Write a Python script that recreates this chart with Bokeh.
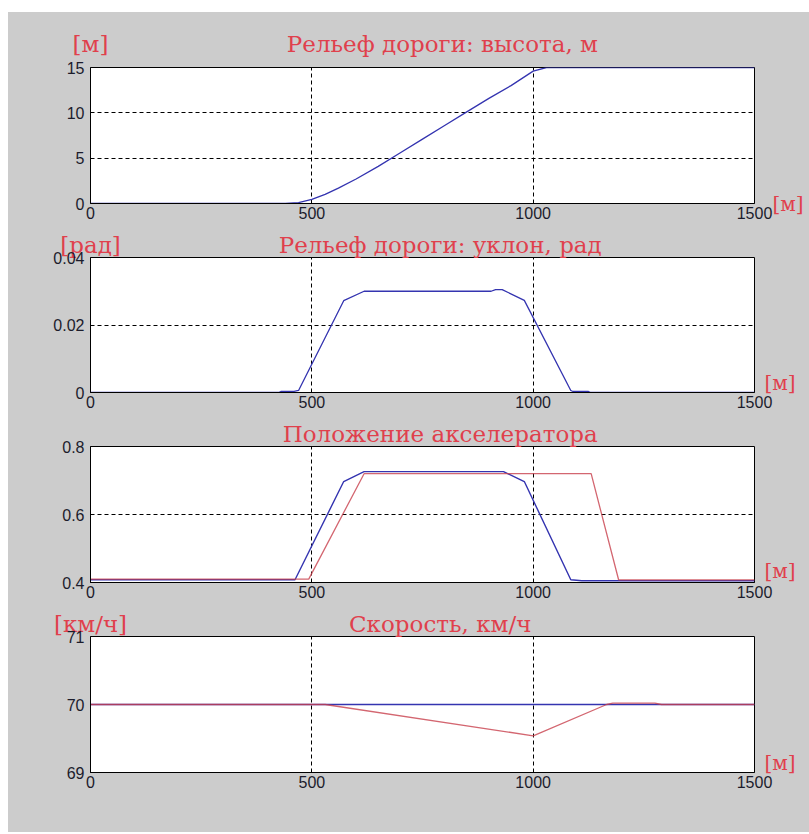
from bokeh.plotting import figure
from bokeh.models import Range1d, FixedTicker, LinearAxis
from bokeh.layouts import column
from bokeh.embed import file_html
from bokeh.resources import INLINE

# ---- data: distance along the road, m ----
X_TICKS = [0, 500, 1000, 1500]
X_TICK_LABELS = ["0", "500", "1000", "1500"]

# road profile: height, m
height_x = [0, 440, 470, 500, 530, 560, 600, 650, 700, 750, 800, 850, 900, 950, 1000, 1030, 1500]
height_y = [0, 0, 0.1, 0.45, 1.0, 1.7, 2.7, 4.1, 5.6, 7.1, 8.6, 10.1, 11.6, 13.0, 14.6, 15.0, 15.0]

# road profile: slope, rad
slope_x = [0, 425, 430, 460, 470, 572, 618, 905, 915, 930, 980, 1085, 1090, 1125, 1130, 1500]
slope_y = [0, 0, 0.0003, 0.0003, 0.0006, 0.0272, 0.0300, 0.0300, 0.0305, 0.0305, 0.0273,
           0.0006, 0.0003, 0.0003, 0, 0]

# accelerator position
accel_blue_x = [0, 462, 572, 618, 933, 980, 1085, 1110, 1500]
accel_blue_y = [0.408, 0.408, 0.697, 0.726, 0.726, 0.697, 0.408, 0.405, 0.405]
accel_red_x = [0, 493, 618, 1131, 1193, 1500]
accel_red_y = [0.41, 0.41, 0.72, 0.72, 0.408, 0.408]

# speed, km/h
speed_blue_x = [0, 1500]
speed_blue_y = [70, 70]
speed_red_x = [0, 530, 1000, 1166, 1180, 1275, 1290, 1500]
speed_red_y = [70, 70, 69.54, 70.0, 70.02, 70.02, 70.0, 70.0]

# y axis ticks and their labels
Y1_TICKS, Y1_LABELS = [0, 5, 10, 15], ["0", "5", "10", "15"]
Y2_TICKS, Y2_LABELS = [0, 0.02, 0.04], ["0", "0.02", "0.04"]
Y3_TICKS, Y3_LABELS = [0.4, 0.6, 0.8], ["0.4", "0.6", "0.8"]
Y4_TICKS, Y4_LABELS = [69, 70, 71], ["69", "70", "71"]

TITLES = ["Рельеф дороги: высота, м", "Рельеф дороги: уклон, рад",
          "Положение акселератора", "Скорость, км/ч"]
UNITS = ["[м]", "[рад]", None, "[км/ч]"]
X_UNIT = "[м]"

# ---- styling ----
GRAY = "#cccccc"
BLUE = "#3434b0"
RED = "#c8404c"
TITLE_RED = "#e0404c"
TICK_FONT = "Liberation Sans"
SERIF = "DejaVu Serif"

FRAME_W = 664


def bare_axis(ax):
    ax.axis_line_color = None
    ax.major_tick_line_color = None
    ax.minor_tick_line_color = None
    ax.major_tick_in = 0
    ax.major_tick_out = 0
    ax.major_label_text_font = SERIF
    ax.major_label_text_color = TITLE_RED


def make_panel(y_lo, y_hi, y_ticks, y_labels, frame_h, top, bottom):
    p = figure(frame_width=FRAME_W, frame_height=frame_h,
               x_range=Range1d(0, 1500), y_range=Range1d(y_lo, y_hi),
               output_backend="svg", toolbar_location=None, title=None,
               min_border_left=82, min_border_right=55,
               min_border_top=top, min_border_bottom=bottom)
    p.background_fill_color = "white"
    p.border_fill_color = GRAY
    p.outline_line_color = "black"
    p.outline_line_width = 1

    p.xaxis.ticker = FixedTicker(ticks=X_TICKS)
    p.xaxis.major_label_overrides = dict(zip(X_TICKS, X_TICK_LABELS))
    p.yaxis.ticker = FixedTicker(ticks=y_ticks)
    p.yaxis.major_label_overrides = dict(zip(y_ticks, y_labels))

    for ax in (p.xaxis[0], p.yaxis[0]):
        ax.axis_line_color = "black"
        ax.major_tick_in = 0
        ax.major_tick_out = 0
        ax.minor_tick_line_color = None
        ax.major_label_text_font = TICK_FONT
        ax.major_label_text_font_size = "16px"
        ax.major_label_text_color = "#1c1c2c"
    p.xaxis.major_label_standoff = 3
    p.yaxis.major_label_standoff = 6

    for g in (p.xgrid[0], p.ygrid[0]):
        g.grid_line_color = "black"
        g.grid_line_dash = "4 3"
        g.grid_line_width = 1
    return p


def add_heading(p, title, unit, title_at, unit_at, standoff):
    # panel heading and its unit share one row above the frame
    ticks = [title_at] + ([unit_at] if unit else [])
    names = [title] + ([unit] if unit else [])
    ax = LinearAxis(ticker=FixedTicker(ticks=ticks),
                    major_label_overrides=dict(zip(ticks, names)))
    bare_axis(ax)
    ax.major_label_text_font_size = "23px"
    ax.major_label_standoff = standoff
    p.add_layout(ax, "above")


def add_x_unit(p, at, standoff):
    # distance unit to the right of the frame, near the x axis
    ax = LinearAxis(ticker=FixedTicker(ticks=[at]),
                    major_label_overrides={at: X_UNIT})
    bare_axis(ax)
    ax.major_label_text_font_size = "20px"
    ax.major_label_standoff = standoff
    p.add_layout(ax, "right")


# panel 1: height
p1 = make_panel(0, 15, Y1_TICKS, Y1_LABELS, 136, 55, 22)
p1.line(height_x, height_y, line_color=BLUE, line_width=1.3)
add_heading(p1, TITLES[0], UNITS[0], 795, 0, 11)
add_x_unit(p1, 0, 18)

# panel 2: slope
p2 = make_panel(0, 0.04, Y2_TICKS, Y2_LABELS, 135, 32, 22)
p2.line(slope_x, slope_y, line_color=BLUE, line_width=1.3)
add_heading(p2, TITLES[1], UNITS[1], 790, 0, 0)
add_x_unit(p2, 0.00267, 10)

# panel 3: accelerator position
p3 = make_panel(0.4, 0.8, Y3_TICKS, Y3_LABELS, 136, 32, 22)
p3.line(accel_blue_x, accel_blue_y, line_color=BLUE, line_width=1.4)
p3.line(accel_red_x, accel_red_y, line_color=RED, line_width=1.3, line_alpha=0.8)
add_heading(p3, TITLES[2], UNITS[2], 790, None, 0)
add_x_unit(p3, 0.435, 10)

# panel 4: speed
p4 = make_panel(69, 71, Y4_TICKS, Y4_LABELS, 136, 32, 60)
p4.line(speed_blue_x, speed_blue_y, line_color=BLUE, line_width=1.4)
p4.line(speed_red_x, speed_red_y, line_color=RED, line_width=1.3, line_alpha=0.8)
add_heading(p4, TITLES[3], UNITS[3], 790, 0, 0)
add_x_unit(p4, 69.147, 10)

layout = column(p1, p2, p3, p4, spacing=0, margin=(12, 0, 0, 8),
                styles={"background-color": GRAY})

with open("out.html", "w") as f:
    f.write(file_html(layout, INLINE))
